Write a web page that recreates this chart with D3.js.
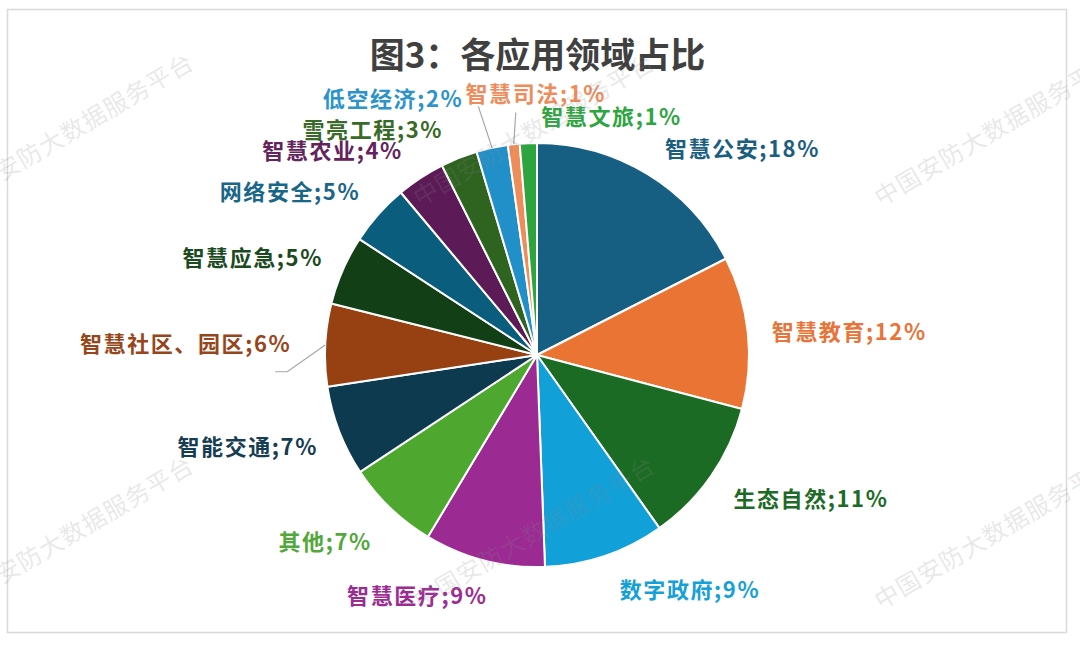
<!DOCTYPE html>
<html>
<head>
<meta charset="utf-8">
<script src="https://cdn.jsdelivr.net/npm/d3@7"></script>
<style>
  html, body { margin: 0; padding: 0; background: #fff; }
  svg { display: block; }
  text { font-family: "Noto Sans CJK SC", "Noto Sans", sans-serif; }
</style>
</head>
<body>
<svg id="chart" width="1080" height="657"></svg>
<script>
// ---- data ----
const title = "图3：各应用领域占比";
const categories = ["智慧公安", "智慧教育", "生态自然", "数字政府", "智慧医疗", "其他", "智能交通",
  "智慧社区、园区", "智慧应急", "网络安全", "智慧农业", "雪亮工程", "低空经济", "智慧司法", "智慧文旅"];
const values = [17.5, 11.6, 11.1, 9.2, 9.2, 7.1, 6.9, 6.3, 5.3, 4.7, 3.7, 2.8, 2.4, 0.9, 1.3];
const sliceColors = ["#165E82", "#E97433", "#1B6B24", "#11A0D8", "#9B2A93", "#4EA830", "#0E3A4F",
  "#974011", "#133F17", "#0B5D7E", "#5C1A56", "#2E6320", "#2290C8", "#EF8D5A", "#2EA43E"];
const labelColors = ["#1B5E80", "#E8743A", "#1D6B26", "#16A0D8", "#9C2C94", "#52A83A", "#163D52",
  "#97461C", "#1A4A1D", "#186688", "#63235E", "#386A28", "#2C93CB", "#EE8C5B", "#2EA540"];
const watermarkText = "中国安防大数据服务平台";

// ---- layout (not data) ----
const W = 1080, H = 657;
const cx = 537, cy = 355, R = 212, labelR = R + 27;
// label nudges [dx, dy, anchorOverride]
const nudges = {
  "智慧公安": [3, -4], "智慧教育": [-3, 0], "生态自然": [0, 6], "数字政府": [6, 7],
  "智慧医疗": [10, 8], "其他": [0, 12], "智能交通": [4, 4], "智慧社区、园区": [-7, -2],
  "智慧应急": [5, -3], "网络安全": [2, -6], "智慧农业": [-3, -6], "雪亮工程": [-6, -5],
  "低空经济": [-23, -24], "智慧司法": [25, -25, "middle"], "智慧文旅": [14, -1, "start"]
};
// leader line end points relative to label anchor
const leaders = {
  "低空经济": [[15, 9]],
  "智慧司法": [[-20, 20]],
  "智慧社区、园区": [[-4, 30], [-16, 30]]
};

const svg = d3.select("#chart");
svg.append("rect").attr("x", 0).attr("y", 0).attr("width", W).attr("height", H).attr("fill", "#fff");
svg.append("rect").attr("x", 7.5).attr("y", 9.5).attr("width", 1059).attr("height", 623)
  .attr("fill", "none").attr("stroke", "#d9d9d9").attr("stroke-width", 1.5);

svg.append("text").attr("x", cx + 0.5).attr("y", 52).attr("text-anchor", "middle")
  .attr("dominant-baseline", "central").attr("font-size", 35).attr("font-weight", 700)
  .attr("fill", "#404040").text(title);

const data = categories.map((c, i) => ({ cat: c, v: values[i], color: sliceColors[i], lc: labelColors[i] }));
const pie = d3.pie().sort(null).value(d => d.v).startAngle(0).endAngle(2 * Math.PI);
const arcs = pie(data);
const arc = d3.arc().innerRadius(0).outerRadius(R);
const edgeArc = d3.arc().innerRadius(R).outerRadius(R);
const lArc = d3.arc().innerRadius(labelR).outerRadius(labelR);

const g = svg.append("g").attr("transform", `translate(${cx},${cy})`);
g.selectAll("path.slice").data(arcs).enter().append("path")
  .attr("class", "slice").attr("d", arc).attr("fill", d => d.data.color)
  .attr("stroke", "#fff").attr("stroke-width", 2).attr("stroke-linejoin", "round");

// labels
arcs.forEach(d => {
  const [lx, ly] = lArc.centroid(d);
  const mid = (d.startAngle + d.endAngle) / 2;
  const n = nudges[d.data.cat] || [0, 0];
  const anchor = n[2] || (mid < Math.PI ? "start" : "end");
  const x = lx + n[0], y = ly + n[1];
  if (leaders[d.data.cat]) {
    const [ex, ey] = edgeArc.centroid(d);
    const pts = [[ex, ey]].concat(leaders[d.data.cat].map(p => [x + p[0], y + p[1]]));
    g.append("path").attr("d", d3.line()(pts)).attr("fill", "none")
      .attr("stroke", "#a6a6a6").attr("stroke-width", 1.2);
  }
  g.append("text").attr("x", x).attr("y", y).attr("text-anchor", anchor)
    .attr("dominant-baseline", "central").attr("font-size", 22).attr("font-weight", 700)
    .attr("letter-spacing", 1.6)
    .attr("fill", d.data.lc).text(`${d.data.cat};${Math.round(d.data.v)}%`);
});

// watermark
const wmX = [-41, 420, 881], wmY = [207, 610];
const wm = svg.append("g").attr("pointer-events", "none");
wmY.forEach(yy => wmX.forEach(xx => {
  wm.append("text").attr("transform", `translate(${xx},${yy}) rotate(-30.5)`)
    .attr("font-size", 24).attr("fill", "#888").attr("fill-opacity", 0.2)
    .attr("letter-spacing", 1).text(watermarkText);
}));
</script>
</body>
</html>
